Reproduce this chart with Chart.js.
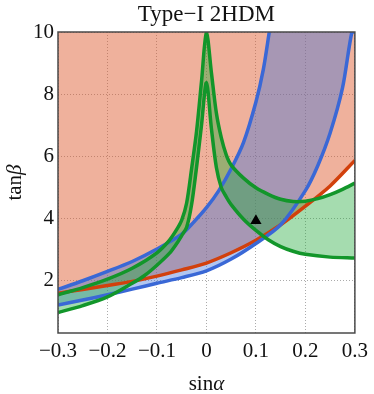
<!DOCTYPE html>
<html>
<head>
<meta charset="utf-8">
<script src="https://cdn.jsdelivr.net/npm/chart.js@4"></script>
<style>
  html, body { margin: 0; padding: 0; background: #fff; }
</style>
</head>
<body>
<canvas id="myChart" width="374" height="394"></canvas>
<script>
// axis ranges and ticks
const xMin = -0.3, xMax = 0.3;
const yMin = 0.32, yMax = 10;
const xTicks = [-0.3, -0.2, -0.1, 0, 0.1, 0.2, 0.3];
const xTickLabels = ['−0.3', '−0.2', '−0.1', '0', '0.1', '0.2', '0.3'];
const yTicks = [2, 4, 6, 8, 10];
const yTickLabels = ['2', '4', '6', '8', '10'];

// red bound (shaded region above it)
const redX = [-0.3, -0.25, -0.2, -0.15, -0.1, -0.05, 0, 0.05, 0.1, 0.15, 0.2, 0.25, 0.3];
const redY = [1.6, 1.72, 1.85, 1.98, 2.15, 2.35, 2.57, 2.9, 3.3, 3.8, 4.4, 5.05, 5.87];

// blue band
const blueUpX = [-0.3, -0.25, -0.2, -0.15, -0.1, -0.05, -0.025, 0, 0.025, 0.05, 0.075, 0.1, 0.115, 0.127];
const blueUpY = [1.72, 2.0, 2.3, 2.62, 3.02, 3.5, 3.9, 4.35, 4.9, 5.6, 6.45, 7.75, 8.8, 10];
const blueLoX = [-0.3, -0.25, -0.2, -0.15, -0.1, -0.05, 0, 0.05, 0.1, 0.15, 0.2, 0.225, 0.25, 0.275, 0.294];
const blueLoY = [1.22, 1.38, 1.55, 1.73, 1.92, 2.1, 2.32, 2.7, 3.2, 3.8, 4.9, 5.7, 6.75, 8.2, 10];

// green band
const greenOutX = [-0.3, -0.25, -0.2, -0.15, -0.1, -0.075, -0.06, -0.05, -0.04, -0.03, -0.02, -0.01, 0,
  0.01, 0.02, 0.03, 0.04, 0.05, 0.075, 0.1, 0.125, 0.15, 0.175, 0.2, 0.225, 0.25, 0.275, 0.3];
const greenOutY = [1.55, 1.78, 2.05, 2.4, 2.9, 3.3, 3.65, 3.95, 4.5, 5.6, 6.8, 8.4, 10,
  8.7, 7.4, 6.6, 6.05, 5.72, 5.3, 4.99, 4.78, 4.62, 4.55, 4.56, 4.64, 4.77, 4.94, 5.14];
const greenInX = [-0.3, -0.25, -0.2, -0.15, -0.125, -0.1, -0.075, -0.06, -0.05, -0.04, -0.03, -0.02, -0.01, 0,
  0.01, 0.02, 0.03, 0.04, 0.05, 0.075, 0.1, 0.125, 0.15, 0.175, 0.2, 0.25, 0.3];
const greenInY = [0.98, 1.2, 1.48, 1.92, 2.17, 2.5, 2.88, 3.2, 3.45, 3.72, 4.45, 5.65, 7.0, 8.37,
  6.9, 5.65, 5.0, 4.7, 4.45, 3.98, 3.62, 3.32, 3.1, 2.95, 2.85, 2.76, 2.73];

// benchmark point
const markX = [0.1];
const markY = [3.93];

const toPoints = (xs, ys) => xs.map((x, i) => ({x: x, y: ys[i]}));

// the blue band runs along the top edge once its upper curve leaves the plot
const blueBandTop = toPoints(blueUpX, blueUpY).concat([
  {x: blueUpX[blueUpX.length - 1] + 0.001, y: yMax},
  {x: xMax, y: yMax}
]);
const blueLoLine = toPoints(blueLoX, blueLoY).concat([{x: xMax, y: yMax}]);

const serif = 'Liberation Serif';
const blue = '#3a68d6';
const green = '#12962a';

const lineBase = {
  type: 'line',
  pointRadius: 0,
  borderWidth: 3.5,
  tension: 0.3,
  clip: 0
};

const data = {
  datasets: [
    {
      type: 'scatter',
      data: toPoints(markX, markY),
      pointStyle: 'triangle',
      pointRadius: 6.5,
      backgroundColor: '#000',
      borderColor: '#000',
      borderWidth: 0,
      clip: 0
    },
    Object.assign({}, lineBase, {
      data: toPoints(greenOutX, greenOutY),
      borderColor: green,
      backgroundColor: 'rgba(30,167,55,0.4)',
      fill: '+1'
    }),
    Object.assign({}, lineBase, {
      data: toPoints(greenInX, greenInY),
      borderColor: green,
      fill: false
    }),
    Object.assign({}, lineBase, {
      data: toPoints(blueUpX, blueUpY),
      borderColor: blue,
      fill: false
    }),
    Object.assign({}, lineBase, {
      data: blueBandTop,
      borderColor: 'rgba(0,0,0,0)',
      backgroundColor: 'rgba(60,112,218,0.4)',
      fill: '+1'
    }),
    Object.assign({}, lineBase, {
      data: blueLoLine,
      borderColor: blue,
      fill: false
    }),
    Object.assign({}, lineBase, {
      data: toPoints(redX, redY),
      borderColor: '#d2400c',
      backgroundColor: 'rgba(220,90,45,0.47)',
      fill: 'end'
    })
  ]
};

function drawMixed(ctx, parts, cx, cy, size) {
  let total = 0;
  parts.forEach(p => {
    ctx.font = (p[1] ? 'italic ' : '') + size + 'px "' + serif + '"';
    p.w = ctx.measureText(p[0]).width;
    total += p.w;
  });
  let x = cx - total / 2;
  parts.forEach(p => {
    ctx.font = (p[1] ? 'italic ' : '') + size + 'px "' + serif + '"';
    ctx.fillText(p[0], x, cy);
    x += p.w;
  });
}

const frameAndLabels = {
  id: 'frameAndLabels',
  afterDatasetsDraw(chart) {
    const {ctx, chartArea: a} = chart;
    ctx.save();
    ctx.strokeStyle = '#4a4a4a';
    ctx.lineWidth = 1.5;
    ctx.strokeRect(a.left, a.top, a.right - a.left, a.bottom - a.top);
    ctx.restore();
  },
  afterDraw(chart) {
    const {ctx, chartArea: a} = chart;
    const cx = (a.left + a.right) / 2;
    ctx.save();
    ctx.fillStyle = '#111';
    ctx.textAlign = 'left';
    ctx.textBaseline = 'middle';
    drawMixed(ctx, [['Type−I 2HDM', false]], cx, 15, 23);
    drawMixed(ctx, [['sin', false], ['α', true]], cx, 384, 21);
    ctx.translate(15, (a.top + a.bottom) / 2);
    ctx.rotate(-Math.PI / 2);
    drawMixed(ctx, [['tan', false], ['β', true]], 0, 0, 21);
    ctx.restore();
  }
};

const config = {
  type: 'line',
  data,
  plugins: [frameAndLabels],
  options: {
    responsive: false,
    animation: false,
    devicePixelRatio: 1,
    layout: { padding: { left: 0, right: 14, top: 32, bottom: 0 } },
    plugins: {
      legend: { display: false },
      tooltip: { enabled: false },
      filler: { drawTime: 'beforeDatasetsDraw' }
    },
    scales: {
      x: {
        type: 'linear',
        min: xMin,
        max: xMax,
        afterBuildTicks: s => { s.ticks = xTicks.map(v => ({value: v})); },
        afterFit: s => { s.height = 61; },
        ticks: {
          callback: (v, i) => xTickLabels[i],
          color: '#111',
          font: { family: serif, size: 21 },
          padding: 6,
          maxRotation: 0,
          autoSkip: false
        },
        grid: { color: 'rgba(150,150,150,0.8)', lineWidth: 1, drawTicks: false },
        border: { display: false, dash: [1, 2] }
      },
      y: {
        type: 'linear',
        min: yMin,
        max: yMax,
        afterBuildTicks: s => { s.ticks = yTicks.map(v => ({value: v})); },
        afterFit: s => { s.width = 58; },
        ticks: {
          callback: (v, i) => yTickLabels[i],
          color: '#111',
          font: { family: serif, size: 21 },
          padding: 4
        },
        grid: { color: 'rgba(150,150,150,0.8)', lineWidth: 1, drawTicks: false },
        border: { display: false, dash: [1, 2] }
      }
    }
  }
};

const myChart = new Chart(
  document.getElementById('myChart'),
  config
);
</script>
</body>
</html>
